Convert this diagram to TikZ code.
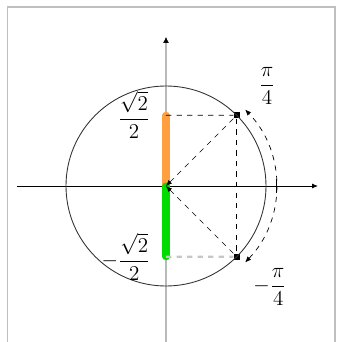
\documentclass[tikz,border=0pt]{standalone}
\usepackage{amsmath,amssymb}
\usetikzlibrary{arrows.meta}

\begin{document}
\begin{tikzpicture}[every node/.style={font=\large}, >={Latex[length=1.2mm,width=1mm]}, dsh/.style={dashed, thin}, pt/.style={fill=black, inner sep=0pt, minimum size=3.5pt}, bar/.style={line width=4pt, line cap=round}]
	\useasboundingbox (-3.32,-3.12) rectangle (3.42,3.72);
	% frame (no bottom edge)
	\draw[gray!50, line width=1.1pt] (-3.17,-3.12) -- (-3.17,3.58) -- (3.38,3.58) -- (3.38,-3.12);
	\coordinate (O) at (0,0);
	\node[pt] (P) at (45:2) {};
	\node[pt] (Q) at (-45:2) {};
	\coordinate (A) at (0,1.414);
	\coordinate (B) at (0,-1.414);
	% axes
	\draw[gray!55, line width=1.7pt] (0,-3.12) -- (0,2.9);
	\draw[-{Latex[length=1.2mm,width=1.2mm]}] (0,2.88) -- (0,2.98);
	\draw[line width=0.5pt, ->] (-2.98,0) -- (3.04,0);
	\draw[line width=0.5pt, black!80] (O) circle (2);
	% coloured segments
	\draw[bar, orange!75] (O) -- (A);
	\draw[bar, green!80!black!70!green] (O) -- (B);
	% projections
	\draw[dsh] (A) -- (P);
	\draw[dashed, gray!45, line width=1.2pt] (B) -- (Q);
	\draw[dsh] (P) -- (Q);
	\draw[dsh, ->] (P) -- (O);
	\draw[dsh, ->] (Q) -- (O);
	% arc between the two angles
	\draw[dsh, <->] (-44:2.2) arc (-44:44:2.2);
	\draw[thin] (2.2,-0.13) -- (2.2,0.13);
	% labels
	\node (l1) at (2.02,2.0) {$\dfrac{\pi}{4}$};
	\node (l2) at (2.08,-2.02) {$-\dfrac{\pi}{4}$};
	\node (l3) at (-0.64,1.42) {$\dfrac{\sqrt2}{2}$};
	\node (l4) at (-0.8,-1.42) {$-\dfrac{\sqrt2}{2}$};
\end{tikzpicture}
\end{document}
